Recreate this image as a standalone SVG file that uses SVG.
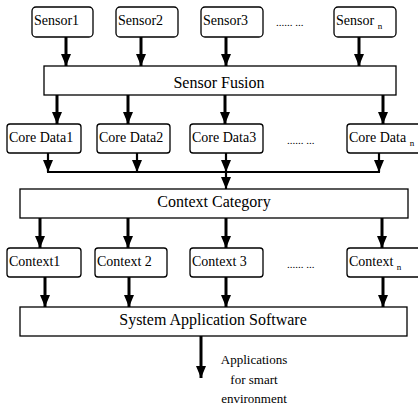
<svg xmlns="http://www.w3.org/2000/svg" width="418" height="409" viewBox="0 0 418 409">
<style>
.box{fill:#fff;stroke:#000;stroke-width:1.3}
.t{font-family:"Liberation Serif","Times New Roman",serif;fill:#000}
.s{font-size:14px}
.b{font-size:16px;text-anchor:middle}
.d{font-size:11px}
.a{font-size:13px;text-anchor:middle}
.c{stroke:#000;stroke-width:3;fill:none}
.c2{stroke:#000;stroke-width:2.2;fill:none}
</style>
<defs>
<marker id="ah" markerUnits="userSpaceOnUse" markerWidth="10" markerHeight="12" viewBox="0 0 10 12" refX="5" refY="12" orient="auto-start-reverse">
<path d="M0,0 L10,0 L5,12 Z" fill="#000" transform="rotate(-90 5 6)"/>
</marker>
<marker id="ah2" markerUnits="userSpaceOnUse" markerWidth="12" markerHeight="10" viewBox="0 0 12 10" refX="12" refY="5" orient="auto">
<path d="M0,0 L12,5 L0,10 Z" fill="#000"/>
</marker>
</defs>
<rect width="418" height="409" fill="#fff"/>
<g id="connectors">
<path class="c" marker-end="url(#ah2)" d="M66,37 V66"/>
<path class="c" marker-end="url(#ah2)" d="M141,37 V66"/>
<path class="c" marker-end="url(#ah2)" d="M226,37 V66"/>
<path class="c" marker-end="url(#ah2)" d="M359,37 V66"/>
<path class="c" marker-end="url(#ah2)" d="M57,95 V124"/>
<path class="c" marker-end="url(#ah2)" d="M128,95 V124"/>
<path class="c" marker-end="url(#ah2)" d="M225,95 V124"/>
<path class="c" marker-end="url(#ah2)" d="M383,95 V124"/>
<path class="c2" marker-end="url(#ah2)" d="M48,153 V172"/>
<path class="c2" marker-end="url(#ah2)" d="M137,153 V172"/>
<path class="c2" marker-end="url(#ah2)" d="M226,153 V172"/>
<path class="c2" marker-end="url(#ah2)" d="M379,153 V172"/>
<path class="c2" d="M47,172 H380"/>
<path class="c2" marker-end="url(#ah2)" d="M226,172 V189"/>
<path class="c" marker-end="url(#ah2)" d="M40,218 V248"/>
<path class="c" marker-end="url(#ah2)" d="M128,218 V248"/>
<path class="c" marker-end="url(#ah2)" d="M226,218 V248"/>
<path class="c" marker-end="url(#ah2)" d="M382,218 V248"/>
<path class="c" marker-end="url(#ah2)" d="M45,277 V307"/>
<path class="c" marker-end="url(#ah2)" d="M129,277 V307"/>
<path class="c" marker-end="url(#ah2)" d="M226,277 V307"/>
<path class="c" marker-end="url(#ah2)" d="M383,277 V307"/>
<path class="c" marker-end="url(#ah2)" d="M201,336 V378"/>
</g>
<g id="sensor1"><rect class="box" x="32" y="7" width="61" height="30" rx="4"/><text class="t s" x="34" y="25">Sensor1</text></g>
<g id="sensor2"><rect class="box" x="116" y="7" width="62" height="30" rx="4"/><text class="t s" x="118" y="25">Sensor2</text></g>
<g id="sensor3"><rect class="box" x="201" y="7" width="62" height="30" rx="4"/><text class="t s" x="203" y="25">Sensor3</text></g>
<text class="t d" x="276" y="26">...... ...</text>
<g id="sensorn"><rect class="box" x="334" y="7" width="62" height="30" rx="4"/><text class="t s" x="336" y="25">Sensor <tspan font-size="9" dy="4">n</tspan></text></g>
<g id="fusion"><rect class="box" x="44" y="66" width="352" height="29"/><text class="t b" x="219" y="88">Sensor Fusion</text></g>
<g id="core1"><rect class="box" x="7" y="124" width="74" height="29" rx="3"/><text class="t s" x="9" y="142">Core Data1</text></g>
<g id="core2"><rect class="box" x="97" y="124" width="73" height="29" rx="3"/><text class="t s" x="99" y="142">Core Data2</text></g>
<g id="core3"><rect class="box" x="190" y="124" width="73" height="29" rx="3"/><text class="t s" x="192" y="142">Core Data3</text></g>
<text class="t d" x="287" y="144">...... ...</text>
<g id="coren"><rect class="box" x="347" y="124" width="76" height="29" rx="3"/><text class="t s" x="349" y="142">Core Data <tspan font-size="9" dy="4">n</tspan></text></g>
<g id="category"><rect class="box" x="20" y="189" width="388" height="29"/><text class="t b" x="214" y="207">Context Category</text></g>
<g id="context1"><rect class="box" x="7" y="248" width="74" height="29" rx="3"/><text class="t s" x="9" y="266">Context1</text></g>
<g id="context2"><rect class="box" x="95" y="248" width="72" height="29" rx="3"/><text class="t s" x="97" y="266">Context 2</text></g>
<g id="context3"><rect class="box" x="190" y="248" width="73" height="29" rx="3"/><text class="t s" x="192" y="266">Context 3</text></g>
<text class="t d" x="287" y="268">...... ...</text>
<g id="contextn"><rect class="box" x="347" y="248" width="76" height="29" rx="3"/><text class="t s" x="349" y="266">Context <tspan font-size="9" dy="4">n</tspan></text></g>
<g id="sas"><rect class="box" x="20" y="307" width="387" height="29"/><text class="t b" x="213" y="325">System Application Software</text></g>
<g id="apps"><text class="t a" x="254" y="364">Applications</text><text class="t a" x="254" y="384">for smart</text><text class="t a" x="254" y="403">environment</text></g>
</svg>
